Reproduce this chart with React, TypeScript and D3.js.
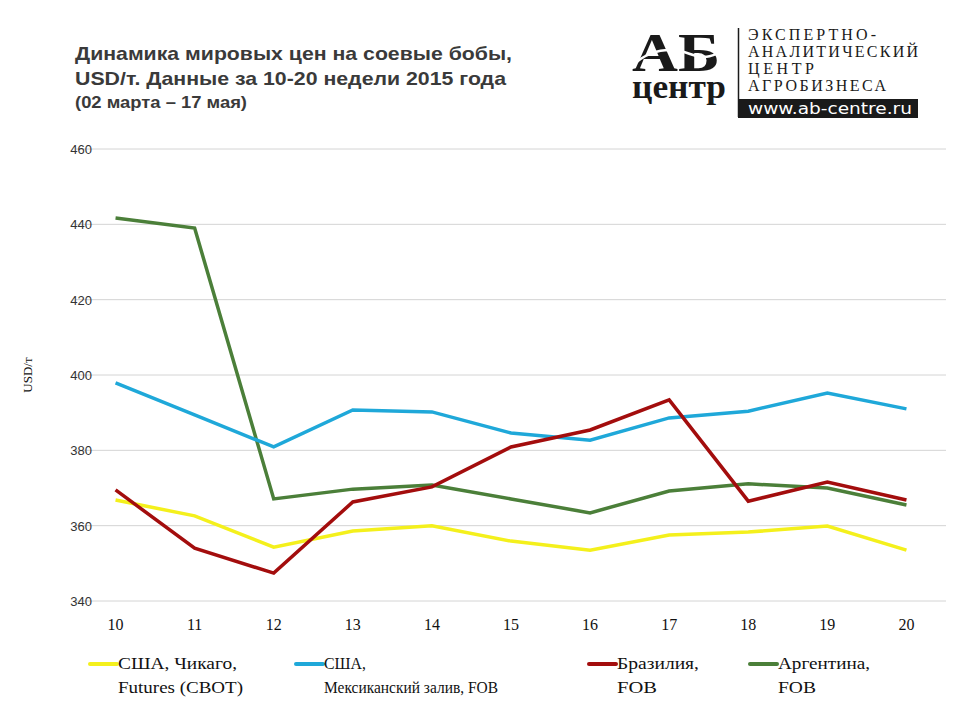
import React, { useEffect, useRef } from "react";
import * as d3 from "d3";

const weeks = [10, 11, 12, 13, 14, 15, 16, 17, 18, 19, 20];
const yTicks = [340, 360, 380, 400, 420, 440, 460];

const chicago = [366.8, 362.6, 354.3, 358.6, 360.0, 355.9, 353.5, 357.5, 358.3, 359.9, 353.5];
const gulf = [397.9, 389.4, 380.9, 390.7, 390.2, 384.6, 382.7, 388.6, 390.4, 395.2, 391.0];
const brazil = [369.5, 354.0, 347.4, 366.3, 370.3, 380.9, 385.4, 393.4, 366.5, 371.6, 366.8];
const argentina = [441.7, 439.0, 367.1, 369.7, 370.8, 367.1, 363.4, 369.2, 371.1, 370.0, 365.5];

const seriesNames = [
  ["США, Чикаго,", "Futures (CBOT)"],
  ["США,", "Мексиканский залив, FOB"],
  ["Бразилия,", "FOB"],
  ["Аргентина,", "FOB"],
];
const seriesColors = ["#f4f01c", "#1fa8d9", "#a30d0d", "#4b7f39"];
const seriesValues = [chicago, gulf, brazil, argentina];
// argentina drawn first, under the others
const drawOrder = [3, 0, 1, 2];

const SERIF = "'Liberation Serif', 'Times New Roman', serif";
const SANS = "'Liberation Sans', Arial, sans-serif";

const App = () => {
  const svgRef = useRef<SVGSVGElement>(null);

  useEffect(() => {
    const svg = d3.select(svgRef.current);
    svg.selectAll("*").remove();

    const left = 76;
    const right = 946;
    const top = 149;
    const bottom = 601;

    const x = d3.scaleLinear().domain([9.5, 20.5]).range([left, right]);
    const y = d3.scaleLinear().domain([340, 460]).range([bottom, top]);

    // grid
    svg
      .append("g")
      .selectAll("line")
      .data(yTicks)
      .join("line")
      .attr("x1", left)
      .attr("x2", right)
      .attr("y1", (d) => y(d))
      .attr("y2", (d) => y(d))
      .attr("stroke", "#d4d4d4")
      .attr("stroke-width", 1);

    // y tick labels
    svg
      .append("g")
      .selectAll("text")
      .data(yTicks)
      .join("text")
      .attr("x", 92)
      .attr("y", (d) => y(d) + 5)
      .attr("text-anchor", "end")
      .style("font-family", SANS)
      .attr("font-size", 13)
      .attr("fill", "#333")
      .text((d) => d);

    // x tick labels
    svg
      .append("g")
      .selectAll("text")
      .data(weeks)
      .join("text")
      .attr("x", (d) => x(d))
      .attr("y", 630)
      .attr("text-anchor", "middle")
      .style("font-family", SERIF)
      .attr("font-size", 16)
      .attr("fill", "#111")
      .text((d) => d);

    // y axis label
    svg
      .append("text")
      .attr("transform", "translate(32,375) rotate(-90)")
      .attr("text-anchor", "middle")
      .style("font-family", SERIF)
      .attr("font-size", 13)
      .attr("fill", "#111")
      .text("USD/т");

    // lines
    const line = d3
      .line<number>()
      .x((_, i) => x(weeks[i]))
      .y((d) => y(d));

    drawOrder.forEach((k) => {
      svg
        .append("path")
        .datum(seriesValues[k])
        .attr("d", line)
        .attr("fill", "none")
        .attr("stroke", seriesColors[k])
        .attr("stroke-width", 3.5)
        .attr("stroke-linejoin", "miter");
    });

    // legend
    const legendX = [90, 296, 589, 750];
    const legendW = [
      [119, 125],
      [42, 174],
      [82, 40],
      [92, 38],
    ];
    const lg = svg.append("g");
    seriesNames.forEach((names, i) => {
      lg.append("line")
        .attr("x1", legendX[i])
        .attr("x2", legendX[i] + 27)
        .attr("y1", 664)
        .attr("y2", 664)
        .attr("stroke", seriesColors[i])
        .attr("stroke-width", 4)
        .attr("stroke-linecap", "round");
      names.forEach((t, j) => {
        lg.append("text")
          .attr("x", legendX[i] + 28)
          .attr("y", 669 + j * 24)
          .style("font-family", SERIF)
          .attr("font-size", 17)
          .attr("fill", "#111")
          .attr("textLength", legendW[i][j])
          .attr("lengthAdjust", "spacingAndGlyphs")
          .text(t);
      });
    });

    // title
    const title = [
      { t: "Динамика мировых цен на соевые бобы,", y: 60, s: 19, w: 437 },
      { t: "USD/т. Данные за 10-20 недели 2015 года", y: 85, s: 19, w: 431 },
      { t: "(02 марта – 17 мая)", y: 108, s: 17, w: 172 },
    ];
    svg
      .append("g")
      .selectAll("text")
      .data(title)
      .join("text")
      .attr("x", 75)
      .attr("y", (d) => d.y)
      .style("font-family", SANS)
      .attr("font-weight", "bold")
      .attr("font-size", (d) => d.s)
      .attr("textLength", (d) => d.w)
      .attr("lengthAdjust", "spacingAndGlyphs")
      .attr("fill", "#3a3a3a")
      .text((d) => d.t);

    // logo
    const logo = svg.append("g");
    logo
      .append("text")
      .attr("x", 676)
      .attr("y", 71)
      .attr("text-anchor", "middle")
      .style("font-family", SERIF)
      .attr("font-weight", "bold")
      .attr("font-size", 54)
      .attr("fill", "#1a1a1a")
      .attr("textLength", 88)
      .attr("lengthAdjust", "spacingAndGlyphs")
      .text("АБ");
    logo
      .append("path")
      .attr("d", "M634,64 C650,50 670,46 690,54 C705,60 715,56 726,48")
      .attr("fill", "none")
      .attr("stroke", "#fff")
      .attr("stroke-width", 2.5);
    logo
      .append("text")
      .attr("x", 679)
      .attr("y", 98)
      .attr("text-anchor", "middle")
      .style("font-family", SERIF)
      .attr("font-weight", "bold")
      .attr("font-size", 34)
      .attr("fill", "#1a1a1a")
      .attr("textLength", 94)
      .attr("lengthAdjust", "spacingAndGlyphs")
      .text("центр");
    logo
      .append("line")
      .attr("x1", 738.5)
      .attr("x2", 738.5)
      .attr("y1", 28)
      .attr("y2", 117)
      .attr("stroke", "#1a1a1a")
      .attr("stroke-width", 1.5);
    const logoLines = ["ЭКСПЕРТНО-", "АНАЛИТИЧЕСКИЙ", "ЦЕНТР", "АГРОБИЗНЕСА"];
    const logoLens = [128, 170, 66, 138];
    logoLines.forEach((t, i) => {
      logo
        .append("text")
        .attr("x", 748)
        .attr("y", 40 + i * 17)
        .style("font-family", SERIF)
        .attr("font-size", 16)
        .attr("fill", "#1a1a1a")
        .attr("textLength", logoLens[i])
        .attr("lengthAdjust", "spacing")
        .text(t);
    });
    logo
      .append("rect")
      .attr("x", 738)
      .attr("y", 99)
      .attr("width", 180)
      .attr("height", 19)
      .attr("fill", "#1a1a1a");
    logo
      .append("text")
      .attr("x", 748)
      .attr("y", 114)
      .style("font-family", "'DejaVu Sans', sans-serif")
      .attr("font-size", 15)
      .attr("fill", "#fff")
      .attr("textLength", 164)
      .attr("lengthAdjust", "spacingAndGlyphs")
      .text("www.ab-centre.ru");
  }, []);

  return (
    <svg
      ref={svgRef}
      width={960}
      height={720}
      style={{ position: "absolute", left: 0, top: 0, background: "#fff" }}
    />
  );
};

export default App;
